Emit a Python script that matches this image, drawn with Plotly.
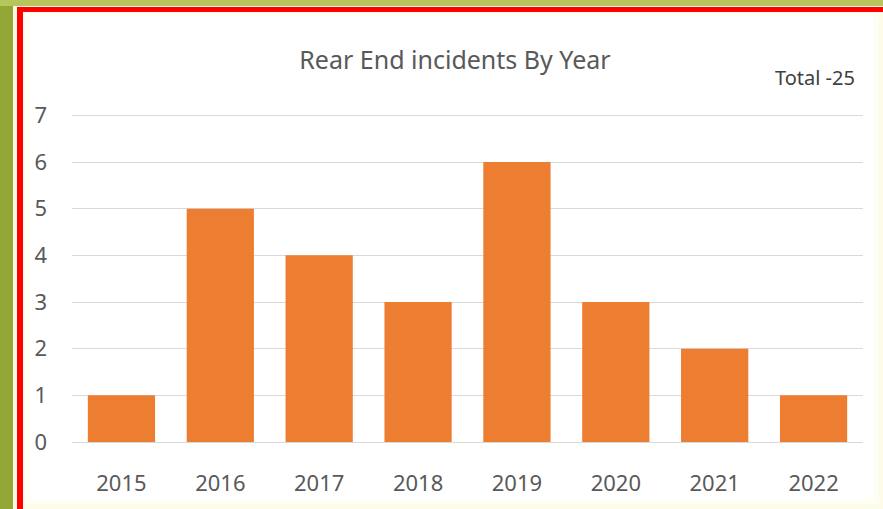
import plotly.graph_objects as go

years = ["2015", "2016", "2017", "2018", "2019", "2020", "2021", "2022"]
incidents = [1, 5, 4, 3, 6, 3, 2, 1]
title_text = "Rear End incidents By Year"
total_text = "Total -25"

W, H = 883, 509
L, R, T, B = 72, 20, 114, 67
PW, PH = W - L - R, H - T - B

def px(x):
    return (x - L) / PW

def py(y):
    return (H - B - y) / PH

def rect(x0, y0, x1, y1, color):
    return dict(type="rect", xref="paper", yref="paper", layer="below",
                x0=px(x0), x1=px(x1), y0=py(y1), y1=py(y0),
                fillcolor=color, line=dict(width=0))

shapes = [
    rect(0, 0, W, 6, "#b7c65c"),
    rect(13, 6, W, H, "#fbf9da"),
    rect(15, 9, W, H, "#fdfce9"),
    rect(24, 13, 879, 504, "#fefef4"),
    rect(30, 17, 874, 499, "#ffffff"),
    rect(17, 7, 23, H, "#ff0000"),
    rect(17, 7, W, 12, "#ff0000"),
]

fig = go.Figure(go.Bar(x=years, y=incidents, marker_color="#ED7D31",
                       marker_line_width=0))

font = "Noto Sans"
fig.update_layout(
    width=W, height=H,
    margin=dict(l=L, r=R, t=T, b=B),
    paper_bgcolor="#93a739",
    plot_bgcolor="rgba(0,0,0,0)",
    bargap=0.32,
    showlegend=False,
    shapes=shapes,
    font=dict(family=font, color="#595959"),
    title=dict(text=title_text, x=455 / W, xanchor="center",
               y=1 - 60 / H, yanchor="middle",
               font=dict(size=25, color="#595959", family=font)),
    annotations=[dict(text=total_text, xref="paper", yref="paper",
                      x=px(857), y=py(78), xanchor="right", yanchor="middle",
                      showarrow=False,
                      font=dict(size=20, color="#404040", family=font))],
)
fig.update_yaxes(range=[0, 7.03], tickvals=[0, 1, 2, 3, 4, 5, 6, 7],
                 showgrid=True, gridcolor="#d9d9d9",
                 gridwidth=1, zeroline=False, showline=False,
                 tickfont=dict(size=22, color="#595959"),
                 ticklabelstandoff=24, ticks="")
fig.update_xaxes(showline=True, linecolor="#d9d9d9", linewidth=1,
                 tickfont=dict(size=22, color="#595959"),
                 ticklabelstandoff=22, ticks="")

fig.write_html("out.html")
